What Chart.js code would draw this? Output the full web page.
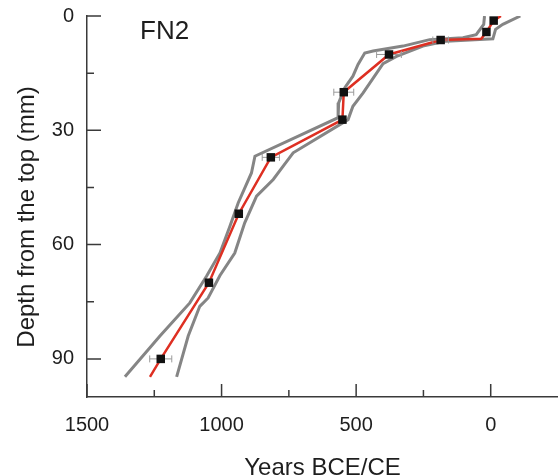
<!DOCTYPE html>
<html>
<head>
<meta charset="utf-8">
<script src="https://cdn.jsdelivr.net/npm/chart.js@4/dist/chart.umd.min.js"></script>
<style>
html,body{margin:0;padding:0;background:#fff;}
#wrap{width:558px;height:475px;}
</style>
</head>
<body>
<div id="wrap"><canvas id="c" width="558" height="475"></canvas></div>
<script>
// ---- Data (ages in years BCE/CE, positive = BCE; depth in mm) ----
const sampleLabel = "FN2";
const pointAges   = [-11, 16, 186, 378, 546, 551, 817, 936, 1047, 1226];
const pointDepths = [1.2, 4.2, 6.3, 10.1, 20.0, 27.2, 37.1, 51.9, 70.0, 90.0];
const pointErrors = [8, 8, 29, 46, 37, 8, 32, 8, 10, 41];

const medianAges   = [-38, -11, 16, 35, 186, 378, 546, 551, 817, 936, 1047, 1226, 1266];
const medianDepths = [0, 1.2, 4.2, 6.0, 6.3, 10.1, 20.0, 27.2, 37.1, 51.9, 70.0, 90.0, 94.7];

const olderAges   = [23, 26, 54, 103, 227, 326, 437, 468, 493, 512, 542, 565, 567, 876, 889, 938, 969, 1006, 1056, 1118, 1229, 1359];
const olderDepths = [0, 2.2, 4.9, 5.7, 6.2, 7.9, 9.2, 9.7, 12.7, 15.8, 18.8, 22.8, 26.7, 36.8, 41.2, 49.0, 55.2, 62.2, 68.3, 75.3, 84.0, 94.7];

const youngerAges   = [-110, -45, -18, -8, 165, 252, 350, 400, 474, 512, 530, 734, 771, 808, 870, 914, 951, 1006, 1050, 1081, 1124, 1167];
const youngerDepths = [0, 2.2, 3.5, 6.0, 6.6, 7.9, 10.6, 12.5, 20.2, 23.7, 27.2, 35.9, 39.4, 42.9, 47.3, 54.3, 62.2, 68.1, 74.0, 76.2, 84.0, 94.7];

const xMajorTicks = [1500, 1000, 500, 0];
const xMinorTicks = [1250, 750, 250];
const yMajorTicks = [0, 30, 60, 90];
const yMinorTicks = [15, 45, 75];
const xTitle = "Years BCE/CE";
const yTitle = "Depth from the top (mm)";

// ---- helpers ----
const toXY = (xs, ys) => xs.map((x, i) => ({x: x, y: ys[i]}));
const FONT = "'Liberation Sans', Arial, sans-serif";
const AXIS_COLOR = '#3a3a3a';
const TEXT_COLOR = '#1e1e1e';

const decorPlugin = {
  id: 'decor',
  afterDatasetDraw(chart, args) {
    if (args.index !== 1) return;
    const ctx = chart.ctx, xs = chart.scales.x, ys = chart.scales.y;
    ctx.save();
    ctx.strokeStyle = '#9a9a9a';
    ctx.lineWidth = 1;
    pointAges.forEach((a, i) => {
      const e = pointErrors[i];
      const x1 = xs.getPixelForValue(a - e), x2 = xs.getPixelForValue(a + e);
      const y = ys.getPixelForValue(pointDepths[i]);
      ctx.beginPath();
      ctx.moveTo(x1, y); ctx.lineTo(x2, y);
      ctx.moveTo(x1, y - 3.5); ctx.lineTo(x1, y + 3.5);
      ctx.moveTo(x2, y - 3.5); ctx.lineTo(x2, y + 3.5);
      ctx.stroke();
    });
    ctx.restore();
  },
  afterDraw(chart) {
    const ctx = chart.ctx, xs = chart.scales.x, ys = chart.scales.y;
    const area = chart.chartArea;
    ctx.save();
    ctx.strokeStyle = AXIS_COLOR;
    ctx.lineWidth = 1.5;
    ctx.beginPath();
    xMajorTicks.forEach(v => { const p = xs.getPixelForValue(v); ctx.moveTo(p, area.bottom); ctx.lineTo(p, area.bottom - 13); });
    xMinorTicks.forEach(v => { const p = xs.getPixelForValue(v); ctx.moveTo(p, area.bottom); ctx.lineTo(p, area.bottom - 7); });
    yMajorTicks.forEach(v => { const p = ys.getPixelForValue(v); ctx.moveTo(area.left, p); ctx.lineTo(area.left + 14, p); });
    yMinorTicks.forEach(v => { const p = ys.getPixelForValue(v); ctx.moveTo(area.left, p); ctx.lineTo(area.left + 7, p); });
    ctx.stroke();

    ctx.fillStyle = TEXT_COLOR;
    ctx.font = "24px " + FONT;
    ctx.textAlign = 'center';
    ctx.textBaseline = 'middle';
    ctx.translate(27, 217);
    ctx.rotate(-Math.PI / 2);
    ctx.fillText(yTitle, 0, 0);
    ctx.setTransform(1, 0, 0, 1, 0, 0);

    ctx.font = "26px " + FONT;
    ctx.textAlign = 'left';
    ctx.textBaseline = 'alphabetic';
    ctx.fillText(sampleLabel, 140, 39);
    ctx.restore();
  }
};

new Chart(document.getElementById('c'), {
  type: 'scatter',
  data: {
    datasets: [
      { label: 'Dated samples', data: toXY(pointAges, pointDepths), showLine: false,
        pointStyle: 'rect', pointRadius: 6, pointHoverRadius: 6,
        backgroundColor: '#111111', borderColor: '#111111', borderWidth: 0 },
      { label: 'Median', data: toXY(medianAges, medianDepths), showLine: true,
        borderColor: '#de2f22', borderWidth: 2.5, pointRadius: 0, tension: 0, fill: false },
      { label: 'Older bound', data: toXY(olderAges, olderDepths), showLine: true,
        borderColor: '#858585', borderWidth: 3, pointRadius: 0, tension: 0, fill: false },
      { label: 'Younger bound', data: toXY(youngerAges, youngerDepths), showLine: true,
        borderColor: '#858585', borderWidth: 3, pointRadius: 0, tension: 0, fill: false }
    ]
  },
  options: {
    responsive: false,
    animation: false,
    events: [],
    layout: { autoPadding: false, padding: { top: 16, left: 0, right: 0, bottom: 0 } },
    plugins: { legend: { display: false }, tooltip: { enabled: false } },
    scales: {
      x: {
        type: 'linear', reverse: true, min: -250, max: 1500,
        grid: { display: false, drawTicks: false },
        border: { display: true, color: AXIS_COLOR, width: 1.5 },
        ticks: {
          stepSize: 250, padding: 0, autoSkip: false, maxRotation: 0,
          color: TEXT_COLOR, font: { family: FONT, size: 20, lineHeight: 2.85 },
          callback: v => xMajorTicks.includes(v) ? String(v) : ''
        },
        title: { display: true, text: xTitle, color: TEXT_COLOR,
                 font: { family: FONT, size: 24 }, padding: { top: 0, bottom: -8 } },
        afterFit: s => { s.height = 78; s.paddingLeft = 0; s.paddingRight = 0; }
      },
      y: {
        type: 'linear', reverse: true, min: 0, max: 100,
        grid: { display: false, drawTicks: false },
        border: { display: true, color: AXIS_COLOR, width: 1.5 },
        ticks: {
          stepSize: 15, padding: 13, autoSkip: false,
          color: TEXT_COLOR, font: { family: FONT, size: 20 },
          callback: v => yMajorTicks.includes(v) ? String(v) : ''
        },
        afterFit: s => { s.width = 87; s.paddingTop = 0; s.paddingBottom = 0; }
      }
    }
  },
  plugins: [decorPlugin]
});
</script>
</body>
</html>
